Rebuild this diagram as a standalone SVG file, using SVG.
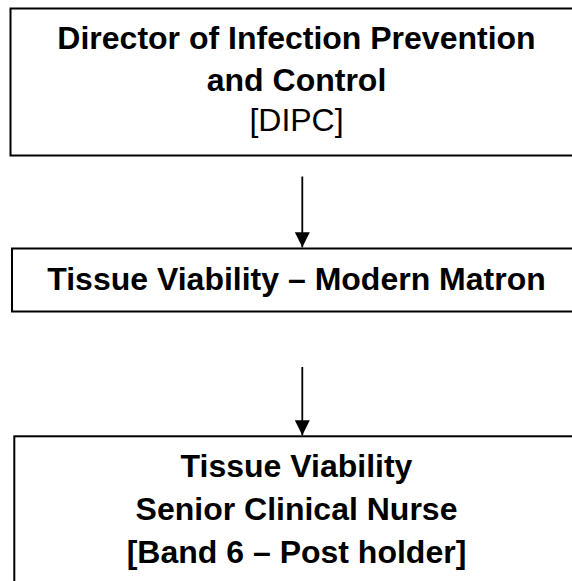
<svg xmlns="http://www.w3.org/2000/svg" width="572" height="581" viewBox="0 0 572 581">
<style>
.box{fill:#fff;stroke:#000;stroke-width:2}
.t{font-family:"Liberation Sans",Arial,sans-serif;font-size:32px;text-anchor:middle;fill:#000}
.b{font-weight:bold}
.conn line{stroke:#000;stroke-width:1.8}
</style>
<defs>
<marker id="ah" markerUnits="userSpaceOnUse" markerWidth="16" markerHeight="16" refX="15" refY="7.5" orient="auto">
<path d="M0,0 L15,7.5 L0,15 Z" fill="#000"/>
</marker>
</defs>
<rect width="572" height="581" fill="#fff"/>
<g id="dipc">
<rect class="box" x="10.5" y="8.5" width="590" height="147"/>
<text class="t b" x="296.5" y="48.5">Director of Infection Prevention</text>
<text class="t b" x="296.5" y="90.5">and Control</text>
<text class="t" x="296.5" y="131">[DIPC]</text>
</g>
<g id="matron">
<rect class="box" x="12" y="248.5" width="590" height="63"/>
<text class="t b" x="296.5" y="290">Tissue Viability – Modern Matron</text>
</g>
<g id="nurse">
<rect class="box" x="14.3" y="436.3" width="590" height="200"/>
<text class="t b" x="296.5" y="477">Tissue Viability</text>
<text class="t b" x="296.5" y="520">Senior Clinical Nurse</text>
<text class="t b" x="296.5" y="563">[Band 6 – Post holder]</text>
</g>
<g id="connectors" class="conn">
<line x1="302.3" y1="176.5" x2="302.3" y2="247.3" marker-end="url(#ah)"/>
<line x1="302.3" y1="367" x2="302.3" y2="435.3" marker-end="url(#ah)"/>
</g>
</svg>
